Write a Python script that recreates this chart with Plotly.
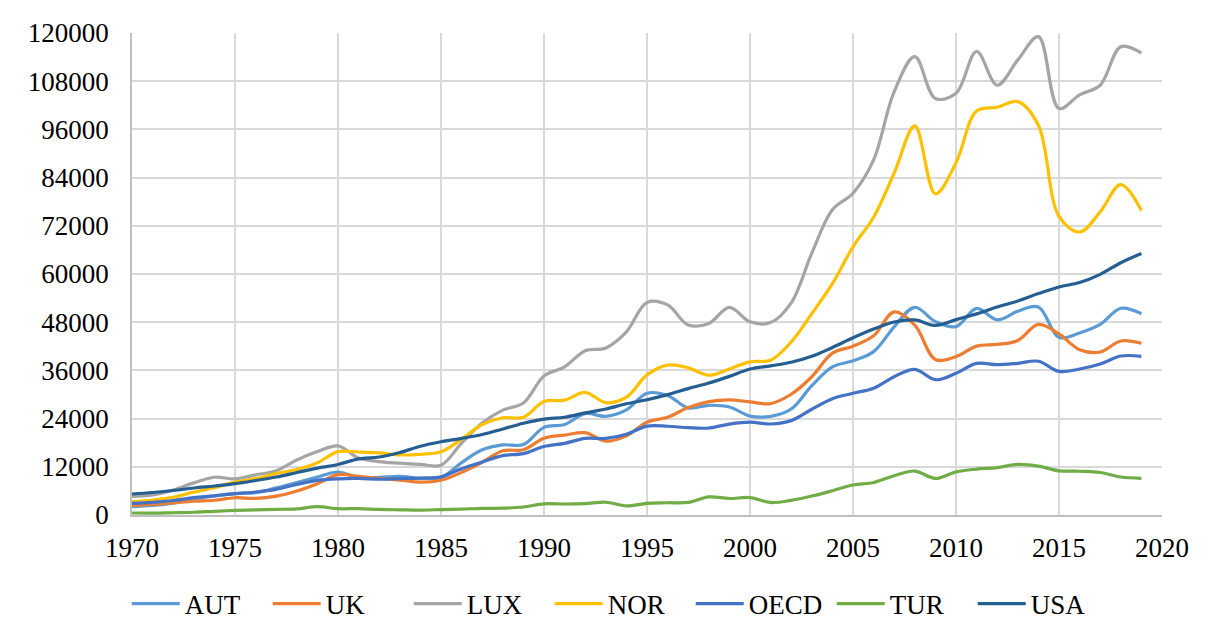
import plotly.graph_objects as go

years = list(range(1970, 2020))

AUT = [2058, 2364, 2946, 3989, 4731, 5336, 5575, 6742, 8067, 9430, 10701, 9348, 9370, 9646, 9144, 9322, 13037, 16238, 17455, 17525,
       21811, 22520, 25241, 24573, 26169, 30325, 29754, 26677, 27315, 26904, 24626, 24565, 26380, 32200, 36890, 38403, 40671, 46857, 51715, 48153,
       46903, 51442, 48565, 50731, 51786, 44196, 45307, 47429, 51466, 50114]
UK = [2348, 2649, 3030, 3426, 3666, 4300, 4138, 4682, 5977, 7805, 10032, 9599, 9146, 8691, 8179, 8652, 10611, 13118, 15987, 16239,
      19095, 19901, 20487, 18389, 19709, 23123, 24332, 26734, 28214, 28670, 28150, 27744, 30057, 34419, 40290, 42030, 44599, 50566, 47287, 38713,
      39436, 42038, 42462, 43449, 47440, 45071, 41146, 40572, 43307, 42747]
LUX = [4600, 5000, 6200, 8000, 9400, 9000, 10000, 11000, 13700, 15800, 17200, 14200, 13300, 12900, 12600, 12400, 17900, 22900, 26100, 27900,
       34600, 36900, 40900, 41600, 45600, 52900, 52300, 47300, 47700, 51700, 48100, 47900, 52800, 65200, 76000, 80100, 88400, 105400, 114100, 103700,
       105000, 115400, 107000, 113300, 119100, 101200, 104600, 107000, 116600, 115000]
NOR = [3306, 3736, 4413, 5689, 6811, 8205, 9042, 10350, 11322, 13009, 15772, 15684, 15466, 14953, 15111, 15748, 18896, 22530, 24206, 24339,
       28243, 28596, 30516, 27959, 29321, 34876, 37321, 36629, 34788, 36371, 38132, 38543, 43084, 50135, 57604, 66775, 74115, 85139, 96880, 79978,
       87693, 100600, 101524, 102913, 97019, 74356, 70461, 75497, 82268, 75826]
OECD = [2880, 3135, 3603, 4323, 4788, 5334, 5724, 6394, 7607, 8618, 9000, 9100, 8900, 9050, 9200, 9500, 11542, 13202, 14792, 15268,
        17045, 17839, 19080, 19068, 20118, 22139, 22095, 21743, 21653, 22636, 23116, 22660, 23498, 26329, 28967, 30314, 31563, 34437, 36263, 33685,
        35264, 37745, 37428, 37765, 38281, 35742, 36343, 37599, 39576, 39504]
TUR = [495, 455, 559, 686, 927, 1132, 1266, 1398, 1546, 2070, 1570, 1591, 1387, 1291, 1225, 1358, 1479, 1663, 1694, 1988,
       2794, 2735, 2842, 3180, 2270, 2897, 3053, 3144, 4498, 4108, 4338, 3119, 3660, 4718, 6041, 7456, 8101, 9792, 10941, 9104,
       10743, 11420, 11796, 12615, 12178, 11006, 10895, 10590, 9454, 9122]
USA = [5234, 5609, 6094, 6726, 7226, 7801, 8592, 9453, 10565, 11674, 12575, 13976, 14434, 15544, 17121, 18237, 19071, 20039, 21417, 22857,
       23889, 24342, 25419, 26387, 27695, 28691, 29968, 31459, 32854, 34515, 36330, 37134, 38023, 39496, 41713, 44115, 46299, 48050, 48570, 47195,
       48651, 50066, 51784, 53291, 55124, 56763, 57867, 59915, 62806, 65095]

series_names = ["AUT", "UK", "LUX", "NOR", "OECD", "TUR", "USA"]
series_values = [AUT, UK, LUX, NOR, OECD, TUR, USA]
colors = ["#5B9BD5", "#ED7D31", "#A5A5A5", "#FFC000", "#4472C4", "#70AD47", "#255E91"]

y_ticks = list(range(0, 120001, 12000))
x_ticks = list(range(1970, 2021, 5))

fig = go.Figure()
for name, vals, c in zip(series_names, series_values, colors):
    fig.add_trace(go.Scatter(
        x=years, y=vals, name=name, mode="lines",
        line=dict(color=c, width=3.2, shape="spline", smoothing=1.0),
    ))

font_family = "Liberation Serif, Times New Roman, serif"

fig.update_layout(
    width=1217, height=642,
    margin=dict(l=124, r=63, t=25, b=135, autoexpand=False),
    paper_bgcolor="white", plot_bgcolor="white",
    font=dict(family=font_family, color="black", size=27),
    showlegend=True,
    legend=dict(
        orientation="h", x=0.474, xanchor="center", y=-0.185, yanchor="middle",
        font=dict(family=font_family, size=27, color="black"),
        itemwidth=48, entrywidth=78, entrywidthmode="pixels",
        tracegroupgap=0, bgcolor="rgba(0,0,0,0)",
    ),
    xaxis=dict(
        range=[1970, 2020], tickvals=x_ticks, ticktext=[str(v) for v in x_ticks],
        showgrid=True, gridcolor="#D9D9D9", gridwidth=1.5,
        showline=True, linecolor="#BFBFBF", linewidth=1.5,
        ticks="", ticklabelstandoff=8, zeroline=False,
        tickfont=dict(family=font_family, size=27, color="black"),
    ),
    yaxis=dict(
        range=[0, 120000], tickvals=y_ticks, ticktext=[str(v) for v in y_ticks],
        showgrid=True, gridcolor="#D9D9D9", gridwidth=1.5,
        showline=True, linecolor="#BFBFBF", linewidth=1.5,
        ticks="", ticklabelstandoff=16, zeroline=False,
        tickfont=dict(family=font_family, size=27, color="black"),
    ),
    shapes=[dict(type="line", xref="paper", yref="paper",
                 x0=-0.13, x1=1.06, y0=(515 - 5) / 482, y1=(515 - 5) / 482,
                 line=dict(color="#D0D0D0", width=2))],
)

fig.write_html("out.html")
